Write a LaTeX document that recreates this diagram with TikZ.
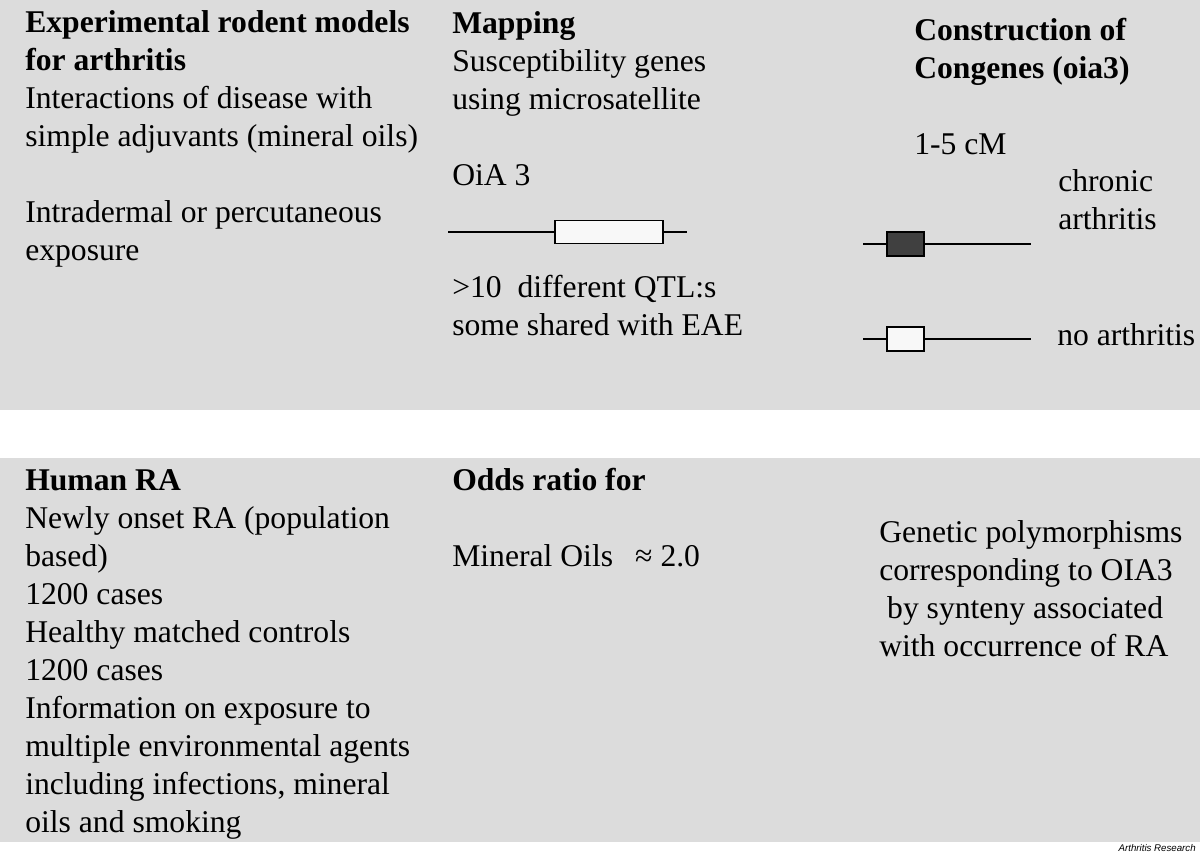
\documentclass[tikz,border=0pt]{standalone}
\usepackage{fontspec}
\setmainfont{Liberation Serif}
\setsansfont{Liberation Sans}

\definecolor{panelgrey}{RGB}{220,220,220}
\definecolor{boxdark}{RGB}{64,64,64}
\definecolor{boxlight}{RGB}{248,248,248}

% multi-line text nodes sit on the baseline of their last line
\tikzset{
  txt/.style = {anchor = base west, inner sep = 0, align = left,
    font = \fontsize{22.5}{27}\selectfont},
  gene/.style = {draw, line width = 1.3pt, inner sep = 0, rectangle},
  chrom/.style = {line width = 1.3pt}
}

\begin{document}
\begin{tikzpicture}[x = 0.025cm, y = -0.025cm]
  \useasboundingbox (0, 0) rectangle (1200, 854);

  \fill[panelgrey] (0, 0) rectangle (1200, 410);
  \fill[panelgrey] (0, 458) rectangle (1200, 842);

  % upper panel
  \node[txt] (rodent) at (25, 260) {\textbf{Experimental rodent models}\\
    \textbf{for arthritis}\\
    Interactions of disease with\\
    simple adjuvants (mineral oils)\\[27pt]
    Intradermal or percutaneous\\
    exposure};

  \node[txt] (mapping) at (452, 185) {\textbf{Mapping}\\
    Susceptibility genes\\
    using microsatellite\\[27pt]
    OiA 3};

  \coordinate (map-l) at (448, 232);
  \coordinate (map-r) at (687, 232);
  \node[gene, fill = boxlight, minimum width = 2.7cm, minimum height = 0.575cm]
    (mapbox) at (609, 232) {};
  \draw[chrom] (map-l) -- (mapbox) -- (map-r);

  \node[txt] (qtl) at (452, 335) {>10\ \ different QTL:s\\
    some shared with EAE};

  \node[txt] (congenes) at (914, 154) {\textbf{Construction of}\\
    \textbf{Congenes (oia3)}\\[27pt]
    1-5 cM};

  \foreach \name/\yy/\col in {chronicbar/244/boxdark, nonebar/339/boxlight}{
    \coordinate (\name-l) at (863, \yy);
    \coordinate (\name-r) at (1031, \yy);
    \node[gene, fill = \col, minimum width = 0.925cm, minimum height = 0.61cm]
      (\name-box) at (905.5, \yy) {};
    \draw[chrom] (\name-l) -- (\name-box) -- (\name-r);
  }

  \node[txt] (chronic) at (1058, 229) {chronic\\ arthritis};
  \node[txt] (noarth) at (1057, 345) {no arthritis};

  % lower panel
  \node[txt] (human) at (25, 832) {\textbf{Human RA}\\
    Newly onset RA (population\\
    based)\\
    1200 cases\\
    Healthy matched controls\\
    1200 cases\\
    Information on exposure to\\
    multiple environmental agents\\
    including infections, mineral\\
    oils and smoking};

  \node[txt] (odds) at (452, 566) {\textbf{Odds ratio for}\\[27pt]
    Mineral Oils\hspace{0.45em} ≈ 2.0};

  \node[txt] (genetic) at (879, 656) {Genetic polymorphisms\\
    corresponding to OIA3\\
    \hspace*{0.25em}by synteny associated\\
    with occurrence of RA};

  \node[anchor = base east, inner sep = 0,
    font = \sffamily\itshape\fontsize{6.9}{8}\selectfont]
    (credit) at (1196, 851) {Arthritis Research};
\end{tikzpicture}
\end{document}
